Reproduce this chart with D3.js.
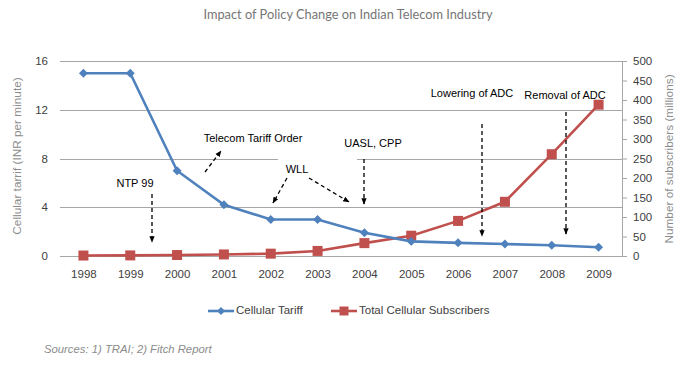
<!DOCTYPE html>
<html><head><meta charset="utf-8">
<script src="https://cdn.jsdelivr.net/npm/d3@7"></script>
<style>body{margin:0;background:#fff}svg{display:block}</style>
</head><body>
<div id="chart"></div>
<script>
const years = ["1998","1999","2000","2001","2002","2003","2004","2005","2006","2007","2008","2009"];
const tariff = [15, 15, 7, 4.2, 3.0, 3.0, 1.9, 1.2, 1.08, 0.98, 0.88, 0.72];
const subscribers = [1.2, 1.5, 2.5, 4, 6, 13, 33, 52, 90, 139, 261, 388];
const leftTicks = [0, 4, 8, 12, 16];
const rightTicks = [0, 50, 100, 150, 200, 250, 300, 350, 400, 450, 500];
const seriesNames = ["Cellular Tariff", "Total Cellular Subscribers"];
const annotations = [
  {text: "NTP 99", tx: 135, ty: 184, arrows: [[152, 194, 152, 242]]},
  {text: "Telecom Tariff Order", tx: 253, ty: 139, arrows: [[205, 172, 221, 151]]},
  {text: "WLL", tx: 297, ty: 170, arrows: [[287, 178, 273, 203], [309, 178, 349, 202]]},
  {text: "UASL, CPP", tx: 373, ty: 144, arrows: [[364, 159, 364, 204]]},
  {text: "Lowering of ADC", tx: 472, ty: 94, arrows: [[482, 124, 482, 236]]},
  {text: "Removal of ADC", tx: 565, ty: 96, arrows: [[566, 112, 566, 234]]}
];

const W = 683, H = 365;
const blue = "#4F81BD", red = "#C0504D";
const font = "'Liberation Sans', Arial, sans-serif";
const svg = d3.select("#chart").append("svg").attr("width", W).attr("height", H);

svg.append("defs").append("marker").attr("id", "ah").attr("viewBox", "0 0 10 10")
  .attr("refX", 9).attr("refY", 5).attr("markerWidth", 5).attr("markerHeight", 5)
  .attr("orient", "auto").append("path").attr("d", "M0,1 L10,5 L0,9 Z").attr("fill", "#000");

const x = d3.scalePoint().domain(years).range([60, 622]).padding(0.5);
const yL = d3.scaleLinear().domain([0, 16]).range([256, 61]);
const yR = d3.scaleLinear().domain([0, 500]).range([256, 61]);

// title
svg.append("text").attr("x", 348).attr("y", 19).attr("text-anchor", "middle")
  .attr("font-family", "Lato, 'Open Sans', sans-serif").attr("font-size", 12.8).attr("fill", "#767676")
  .text("Impact of Policy Change on Indian Telecom Industry");

// gridlines
svg.append("g").selectAll("line").data(leftTicks).join("line")
  .attr("x1", 60).attr("x2", 622).attr("y1", d => Math.round(yL(d)) + 0.5).attr("y2", d => Math.round(yL(d)) + 0.5)
  .attr("stroke", "#a6a6a6").attr("stroke-width", 1);
// white gap behind text box
svg.append("rect").attr("x", 278).attr("y", 155).attr("width", 79).attr("height", 6).attr("fill", "#fff");

// left axis labels
const gl = svg.append("g").attr("transform", "translate(48,0)")
  .call(d3.axisLeft(yL).tickValues(leftTicks).tickSize(0).tickPadding(0));
gl.select(".domain").remove();
gl.selectAll("text").attr("font-family", font).attr("font-size", 11.5).attr("fill", "#404040");

// right axis
const gr = svg.append("g").attr("transform", "translate(622,0)")
  .call(d3.axisRight(yR).tickValues(rightTicks).tickSize(5).tickPadding(6));
gr.select(".domain").attr("stroke", "#a6a6a6");
gr.selectAll(".tick line").attr("stroke", "#a6a6a6");
gr.selectAll("text").attr("font-family", font).attr("font-size", 11.5).attr("fill", "#404040");

// x axis labels
const gx = svg.append("g").attr("transform", "translate(0,270)")
  .call(d3.axisBottom(x).tickSize(0).tickPadding(0));
gx.select(".domain").remove();
gx.selectAll("text").attr("font-family", font).attr("font-size", 11.5).attr("fill", "#404040");

// axis titles
svg.append("text").attr("transform", "translate(21,156) rotate(-90)").attr("text-anchor", "middle")
  .attr("font-family", font).attr("font-size", 11.8).attr("fill", "#8c8c8c")
  .text("Cellular tarrif  (INR per minute)");
svg.append("text").attr("transform", "translate(673,159) rotate(-90)").attr("text-anchor", "middle")
  .attr("font-family", font).attr("font-size", 11.8).attr("fill", "#8c8c8c")
  .text("Number of subscribers (millions)");

// lines
const lineL = d3.line().x((d, i) => x(years[i])).y(d => yL(d));
const lineR = d3.line().x((d, i) => x(years[i])).y(d => yR(d));
svg.append("path").datum(subscribers).attr("d", lineR).attr("fill", "none").attr("stroke", red).attr("stroke-width", 2.6);
svg.append("g").selectAll("rect").data(subscribers).join("rect")
  .attr("x", (d, i) => x(years[i]) - 5).attr("y", d => yR(d) - 5).attr("width", 10).attr("height", 10).attr("fill", red);
svg.append("path").datum(tariff).attr("d", lineL).attr("fill", "none").attr("stroke", blue).attr("stroke-width", 2.6);
svg.append("g").selectAll("path").data(tariff).join("path")
  .attr("d", d3.symbol().type(d3.symbolSquare).size(40))
  .attr("transform", (d, i) => `translate(${x(years[i])},${yL(d)}) rotate(45)`)
  .attr("fill", blue);

// annotations
const ann = svg.append("g");
annotations.forEach(a => {
  ann.append("text").attr("x", a.tx).attr("y", a.ty).attr("text-anchor", "middle").attr("dominant-baseline", "middle")
    .attr("font-family", font).attr("font-size", 11).attr("fill", "#000").text(a.text);
  a.arrows.forEach(ar => {
    ann.append("line").attr("x1", ar[0]).attr("y1", ar[1]).attr("x2", ar[2]).attr("y2", ar[3])
      .attr("stroke", "#000").attr("stroke-width", 1.3).attr("stroke-dasharray", "4,3").attr("marker-end", "url(#ah)");
  });
});

// legend
const lg = svg.append("g");
const legendItems = [{name: seriesNames[0], color: blue, x0: 208, shape: "d"}, {name: seriesNames[1], color: red, x0: 331, shape: "s"}];
legendItems.forEach(it => {
  lg.append("line").attr("x1", it.x0).attr("x2", it.x0 + 26).attr("y1", 311).attr("y2", 311).attr("stroke", it.color).attr("stroke-width", 2.6);
  if (it.shape === "d") {
    lg.append("path").attr("d", d3.symbol().type(d3.symbolSquare).size(32)).attr("transform", `translate(${it.x0 + 13},311) rotate(45)`).attr("fill", it.color);
  } else {
    lg.append("rect").attr("x", it.x0 + 8.5).attr("y", 306.5).attr("width", 9).attr("height", 9).attr("fill", it.color);
  }
  lg.append("text").attr("x", it.x0 + 28).attr("y", 311).attr("dominant-baseline", "middle")
    .attr("font-family", font).attr("font-size", 11.5).attr("fill", "#404040").text(it.name);
});

// source
svg.append("text").attr("x", 44).attr("y", 353).attr("font-family", font).attr("font-style", "italic")
  .attr("font-size", 11.3).attr("fill", "#8c8c8c").text("Sources: 1) TRAI; 2) Fitch Report");
</script>
</body></html>
